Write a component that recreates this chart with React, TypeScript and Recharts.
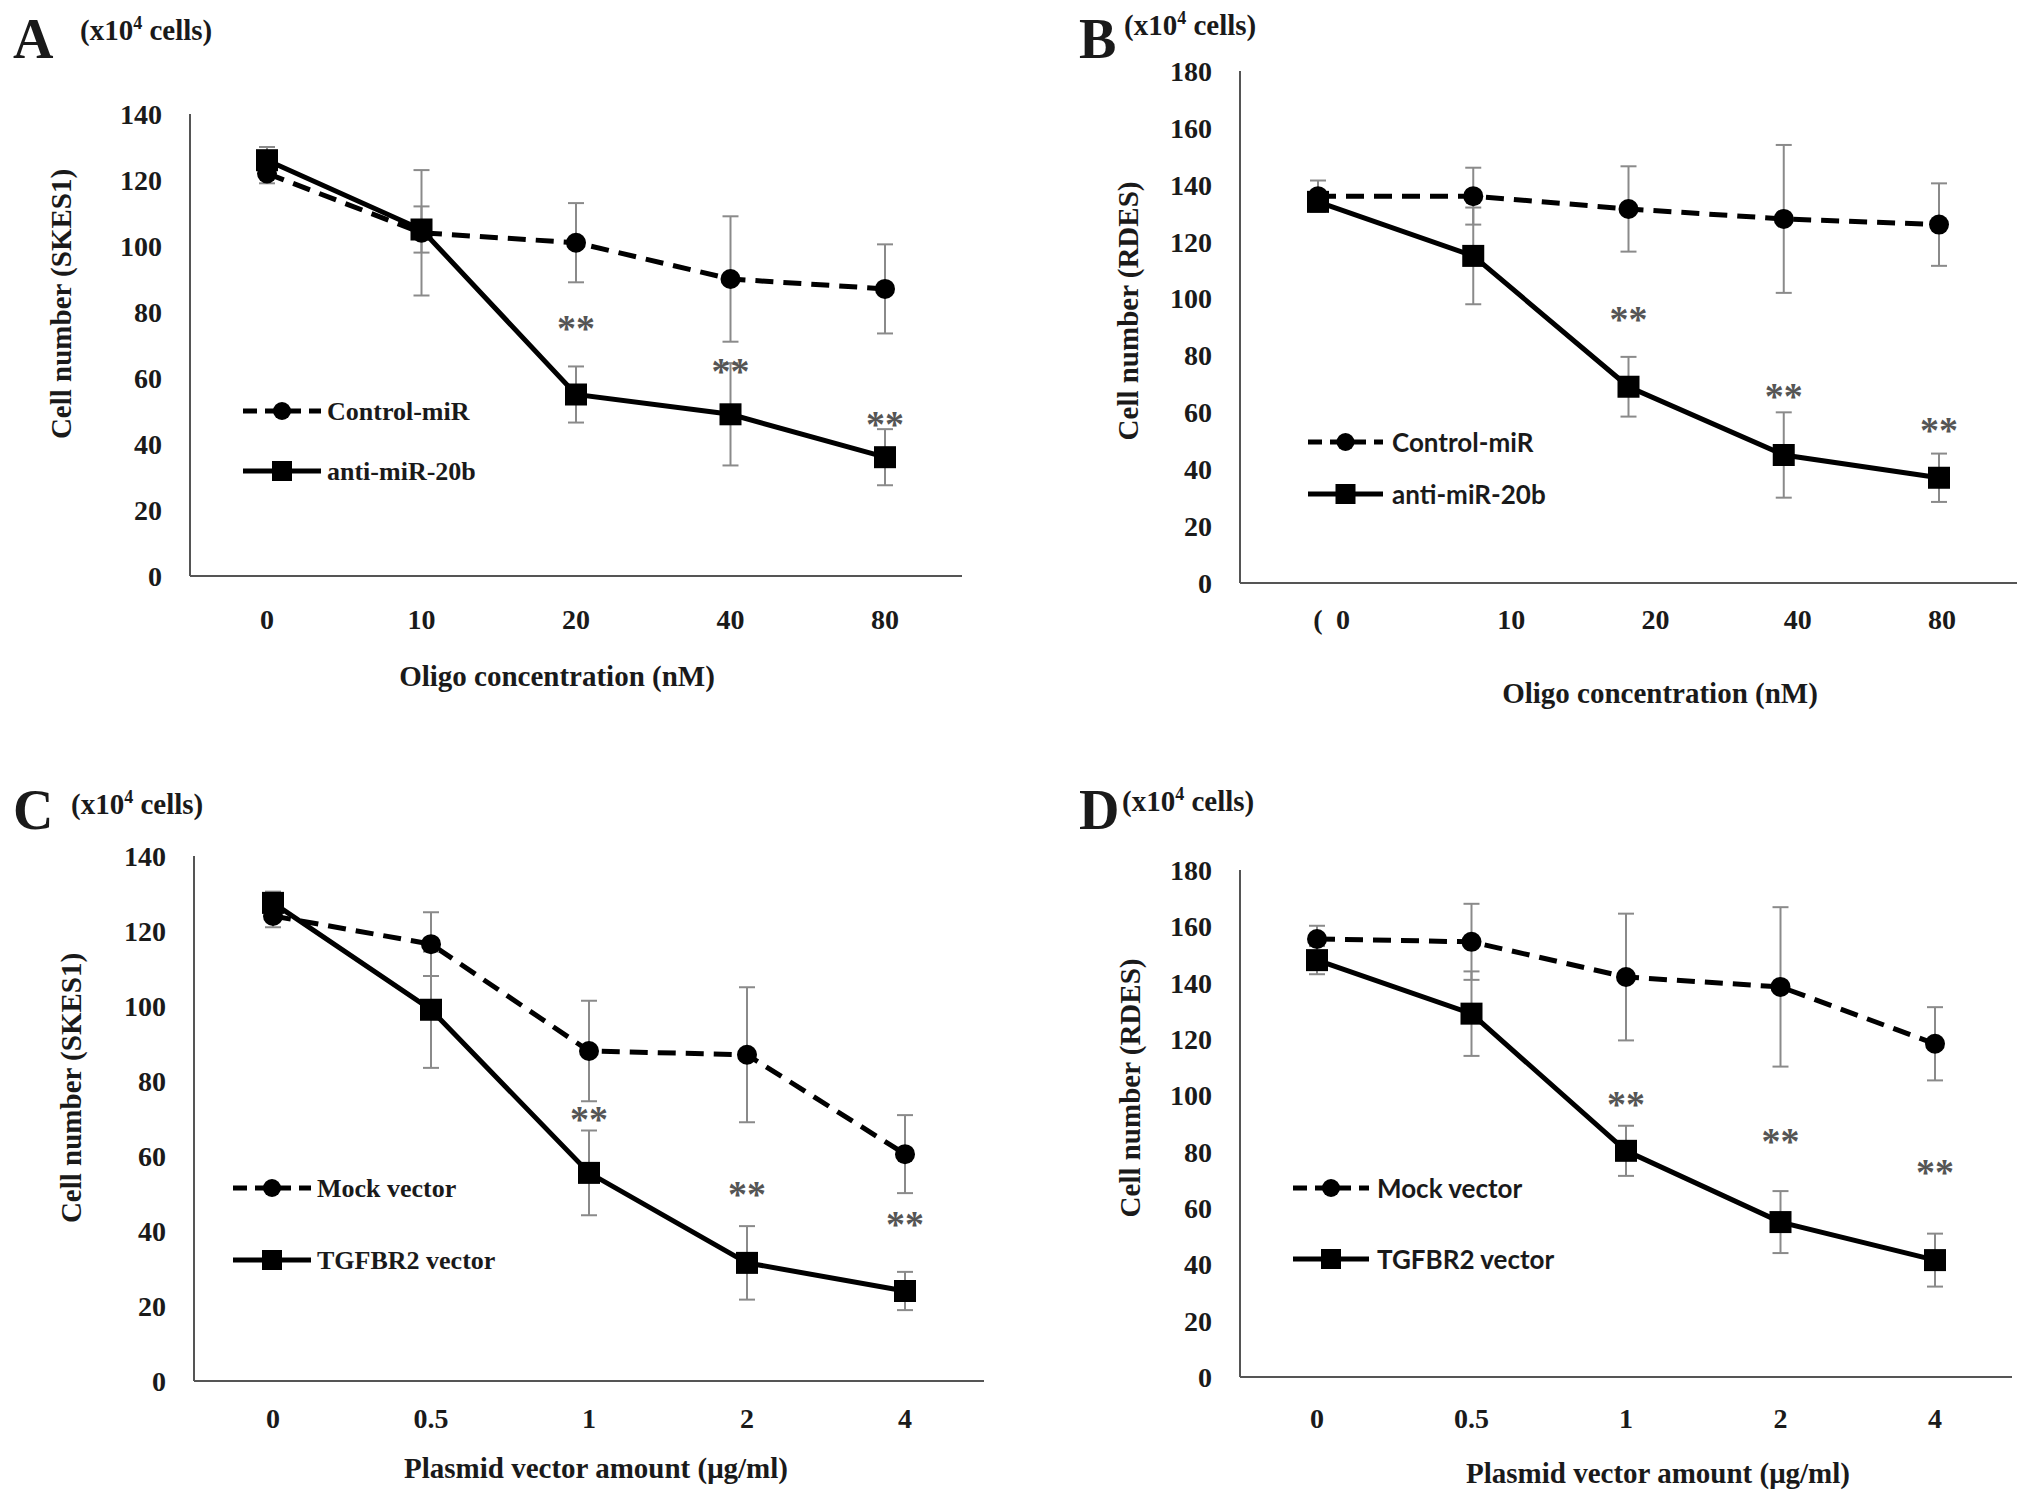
import React from 'react';
import { LineChart, Line, XAxis, YAxis, ErrorBar } from 'recharts';

// ---------- data ----------
const oligoCats = ['0', '10', '20', '40', '80'];
const plasmidCats = ['0', '0.5', '1', '2', '4'];
const ticks140 = [0, 20, 40, 60, 80, 100, 120, 140];
const ticks180 = [0, 20, 40, 60, 80, 100, 120, 140, 160, 180];

// Panel A (SKES1, oligo)
const controlA = [122, 104, 101, 90, 87];
const controlAErr = [3, 19, 12, 19, 13.5];
const antiA = [126, 105, 55, 49, 36];
const antiAErr = [4, 7, 8.5, 15.5, 8.5];
const starsA = [null, null, 77, 64, 48];

// Panel B (RDES, oligo)
const controlB = [136, 136, 131.5, 128, 126];
const controlBErr = [5.5, 10, 15, 26, 14.5];
const antiB = [134, 115, 69, 45, 37];
const antiBErr = [3, 17, 10.5, 15, 8.5];
const starsB = [null, null, 95, 68, 56];

// Panel C (SKES1, plasmid)
const mockC = [124, 116.5, 88, 87, 60.5];
const mockCErr = [3, 8.5, 13.4, 18, 10.4];
const tgfC = [127.5, 99, 55.5, 31.5, 24];
const tgfCErr = [3, 15.5, 11.3, 9.8, 5.1];
const starsC = [null, null, 71.5, 51.5, 43.5];

// Panel D (RDES, plasmid)
const mockD = [155.5, 154.5, 142, 138.5, 118.3];
const mockDErr = [4.7, 13.5, 22.5, 28.3, 13];
const tgfD = [148, 129, 80.3, 55, 41.5];
const tgfDErr = [5, 15, 8.9, 11, 9.4];
const starsD = [null, null, 99, 86, 75];

// ---------- styles ----------
const SERIF = "'Liberation Serif', 'Times New Roman', serif";
const SANS = "Lato, 'Liberation Sans', sans-serif";
const TXT = '#1a1a1a';
const AXIS = '#555';
const ERR = '#8a8a8a';
const DASH = '18 10';

const CircleDot = (props: any) => {
  const { cx, cy, index } = props;
  if (cx == null || cy == null) return <g key={`c${index}`} />;
  return <circle key={`c${index}`} cx={cx} cy={cy} r={10} fill="#000" />;
};
const SquareDot = (props: any) => {
  const { cx, cy, index } = props;
  if (cx == null || cy == null) return <g key={`s${index}`} />;
  return <rect key={`s${index}`} x={cx - 11} y={cy - 11} width={22} height={22} fill="#000" />;
};
const StarDot = (props: any) => {
  const { cx, cy, value, index } = props;
  if (value == null || cx == null || cy == null) return <g key={`t${index}`} />;
  return (
    <text key={`t${index}`} x={cx} y={cy + 6} textAnchor="middle" dominantBaseline="central"
      fontSize={38} fontWeight={700} fontFamily={SERIF} fill="#555">**</text>
  );
};

const makeXTick = (shifts: number[] | null, stray: boolean) => (props: any) => {
  const { x, y, payload, index } = props;
  const dx = shifts ? shifts[index] || 0 : 0;
  return (
    <g>
      {stray && index === 0 ? (
        <text x={x} y={y} dy="0.71em" textAnchor="middle" fontSize={28} fontWeight={700}
          fontFamily={SERIF} fill={TXT}>(</text>
      ) : null}
      <text x={x + dx} y={y} dy="0.71em" textAnchor="middle" fontSize={28} fontWeight={700}
        fontFamily={SERIF} fill={TXT}>{payload.value}</text>
    </g>
  );
};

type PanelProps = {
  left: number; top: number; width: number; height: number;
  margin: { top: number; right: number; bottom: number; left: number };
  pad: number;
  cats: string[]; s1: number[]; e1: number[]; s2: number[]; e2: number[]; stars: (number | null)[];
  yMax: number; yTicks: number[]; xTickMargin: number;
  xShifts?: number[] | null; stray?: boolean;
  letter: string; letterPos: [number, number]; unitsPos: [number, number];
  xTitle: string; xTitlePos: [number, number];
  yTitle: string; yTitlePos: [number, number];
  name1: string; name2: string; legendFont: string;
  legend: { x: number; len: number; textX: number; rows: [number, number] };
};

function LegendRow({ y, x, len, textX, dashed, label, font }: any) {
  return (
    <g>
      <line x1={x} y1={y} x2={x + len} y2={y} stroke="#000" strokeWidth={5}
        strokeDasharray={dashed ? '14 8' : undefined} />
      {dashed ? (
        <circle cx={x + len / 2} cy={y} r={9} fill="#000" />
      ) : (
        <rect x={x + len / 2 - 10} y={y - 10} width={20} height={20} fill="#000" />
      )}
      <text x={textX} y={y} dominantBaseline="central" fontSize={26} fontWeight={700}
        fontFamily={font} fill={TXT}>{label}</text>
    </g>
  );
}

function Panel(p: PanelProps) {
  const data = p.cats.map((c, i) => ({
    cat: c, a: p.s1[i], ae: p.e1[i], b: p.s2[i], be: p.e2[i], star: p.stars[i],
  }));
  return (
    <div style={{ position: 'absolute', left: p.left, top: p.top, width: p.width, height: p.height }}>
      <LineChart width={p.width} height={p.height} data={data} margin={p.margin}>
        <XAxis dataKey="cat" height={60} tickLine={false} tickSize={0} tickMargin={p.xTickMargin}
          axisLine={{ stroke: AXIS, strokeWidth: 2 }} interval={0}
          padding={{ left: p.pad, right: p.pad }}
          tick={makeXTick(p.xShifts || null, !!p.stray)} />
        <YAxis width={80} domain={[0, p.yMax]} ticks={p.yTicks} interval={0} tickLine={false}
          tickSize={0} tickMargin={28} axisLine={{ stroke: AXIS, strokeWidth: 2 }}
          tick={{ fill: TXT, fontSize: 28, fontWeight: 700, fontFamily: SERIF }} />
        <Line dataKey="a" stroke="#000" strokeWidth={5} strokeDasharray={DASH} dot={CircleDot}
          activeDot={false} isAnimationActive={false}>
          <ErrorBar dataKey="ae" direction="y" width={8} strokeWidth={2} stroke={ERR} />
        </Line>
        <Line dataKey="b" stroke="#000" strokeWidth={5} dot={SquareDot}
          activeDot={false} isAnimationActive={false}>
          <ErrorBar dataKey="be" direction="y" width={8} strokeWidth={2} stroke={ERR} />
        </Line>
        <Line dataKey="star" stroke="none" dot={StarDot} activeDot={false}
          isAnimationActive={false} legendType="none" />
      </LineChart>
      <svg width={p.width} height={p.height}
        style={{ position: 'absolute', left: 0, top: 0, pointerEvents: 'none' }}>
        <text x={p.letterPos[0]} y={p.letterPos[1]} fontSize={56} fontWeight={700}
          fontFamily={SERIF} fill={TXT}>{p.letter}</text>
        <text x={p.unitsPos[0]} y={p.unitsPos[1]} fontSize={29} fontWeight={700}
          fontFamily={SERIF} fill={TXT}>
          (x10<tspan fontSize={18} dy={-11}>4</tspan><tspan dy={11}> cells)</tspan>
        </text>
        <text x={p.xTitlePos[0]} y={p.xTitlePos[1]} textAnchor="middle" dominantBaseline="central"
          fontSize={29} fontWeight={700} fontFamily={SERIF} fill={TXT}>{p.xTitle}</text>
        <text x={p.yTitlePos[0]} y={p.yTitlePos[1]} textAnchor="middle" dominantBaseline="central"
          fontSize={29} fontWeight={700} fontFamily={SERIF} fill={TXT}
          transform={`rotate(-90 ${p.yTitlePos[0]} ${p.yTitlePos[1]})`}>{p.yTitle}</text>
        <LegendRow y={p.legend.rows[0]} x={p.legend.x} len={p.legend.len} textX={p.legend.textX}
          dashed label={p.name1} font={p.legendFont} />
        <LegendRow y={p.legend.rows[1]} x={p.legend.x} len={p.legend.len} textX={p.legend.textX}
          dashed={false} label={p.name2} font={p.legendFont} />
      </svg>
    </div>
  );
}

export default function App() {
  return (
    <div style={{ position: 'absolute', left: 0, top: 0, width: 2031, height: 1504, background: '#fff' }}>
      <Panel left={0} top={0} width={1015} height={752}
        margin={{ top: 114, right: 53, bottom: 116, left: 110 }} pad={77}
        cats={oligoCats} s1={controlA} e1={controlAErr} s2={antiA} e2={antiAErr} stars={starsA}
        yMax={140} yTicks={ticks140} xTickMargin={33}
        letter="A" letterPos={[13, 58]} unitsPos={[80, 40]}
        xTitle="Oligo concentration (nM)" xTitlePos={[557, 676]}
        yTitle="Cell number (SKES1)" yTitlePos={[61, 304]}
        name1="Control-miR" name2="anti-miR-20b" legendFont={SERIF}
        legend={{ x: 243, len: 78, textX: 327, rows: [411, 471] }} />
      <Panel left={1015} top={0} width={1016} height={752}
        margin={{ top: 71, right: 14, bottom: 109, left: 145 }} pad={78}
        cats={oligoCats} s1={controlB} e1={controlBErr} s2={antiB} e2={antiBErr} stars={starsB}
        yMax={180} yTicks={ticks180} xTickMargin={26}
        xShifts={[25, 38, 27, 14, 3]} stray
        letter="B" letterPos={[64, 58]} unitsPos={[109, 35]}
        xTitle="Oligo concentration (nM)" xTitlePos={[645, 693]}
        yTitle="Cell number (RDES)" yTitlePos={[113, 311]}
        name1="Control-miR" name2="anti-miR-20b" legendFont={SANS}
        legend={{ x: 293, len: 75, textX: 377, rows: [442, 494] }} />
      <Panel left={0} top={752} width={1015} height={752}
        margin={{ top: 104, right: 31, bottom: 63, left: 114 }} pad={79}
        cats={plasmidCats} s1={mockC} e1={mockCErr} s2={tgfC} e2={tgfCErr} stars={starsC}
        yMax={140} yTicks={ticks140} xTickMargin={27}
        letter="C" letterPos={[13, 77]} unitsPos={[71, 62]}
        xTitle="Plasmid vector amount (μg/ml)" xTitlePos={[596, 716]}
        yTitle="Cell number (SKES1)" yTitlePos={[71, 336]}
        name1="Mock vector" name2="TGFBR2 vector" legendFont={SERIF}
        legend={{ x: 233, len: 78, textX: 317, rows: [436, 508] }} />
      <Panel left={1015} top={752} width={1016} height={752}
        margin={{ top: 118, right: 19, bottom: 67, left: 145 }} pad={77}
        cats={plasmidCats} s1={mockD} e1={mockDErr} s2={tgfD} e2={tgfDErr} stars={starsD}
        yMax={180} yTicks={ticks180} xTickMargin={31}
        letter="D" letterPos={[64, 77]} unitsPos={[107, 59]}
        xTitle="Plasmid vector amount (μg/ml)" xTitlePos={[643, 721]}
        yTitle="Cell number (RDES)" yTitlePos={[115, 336]}
        name1="Mock vector" name2="TGFBR2 vector" legendFont={SANS}
        legend={{ x: 278, len: 76, textX: 362, rows: [436, 507] }} />
    </div>
  );
}
